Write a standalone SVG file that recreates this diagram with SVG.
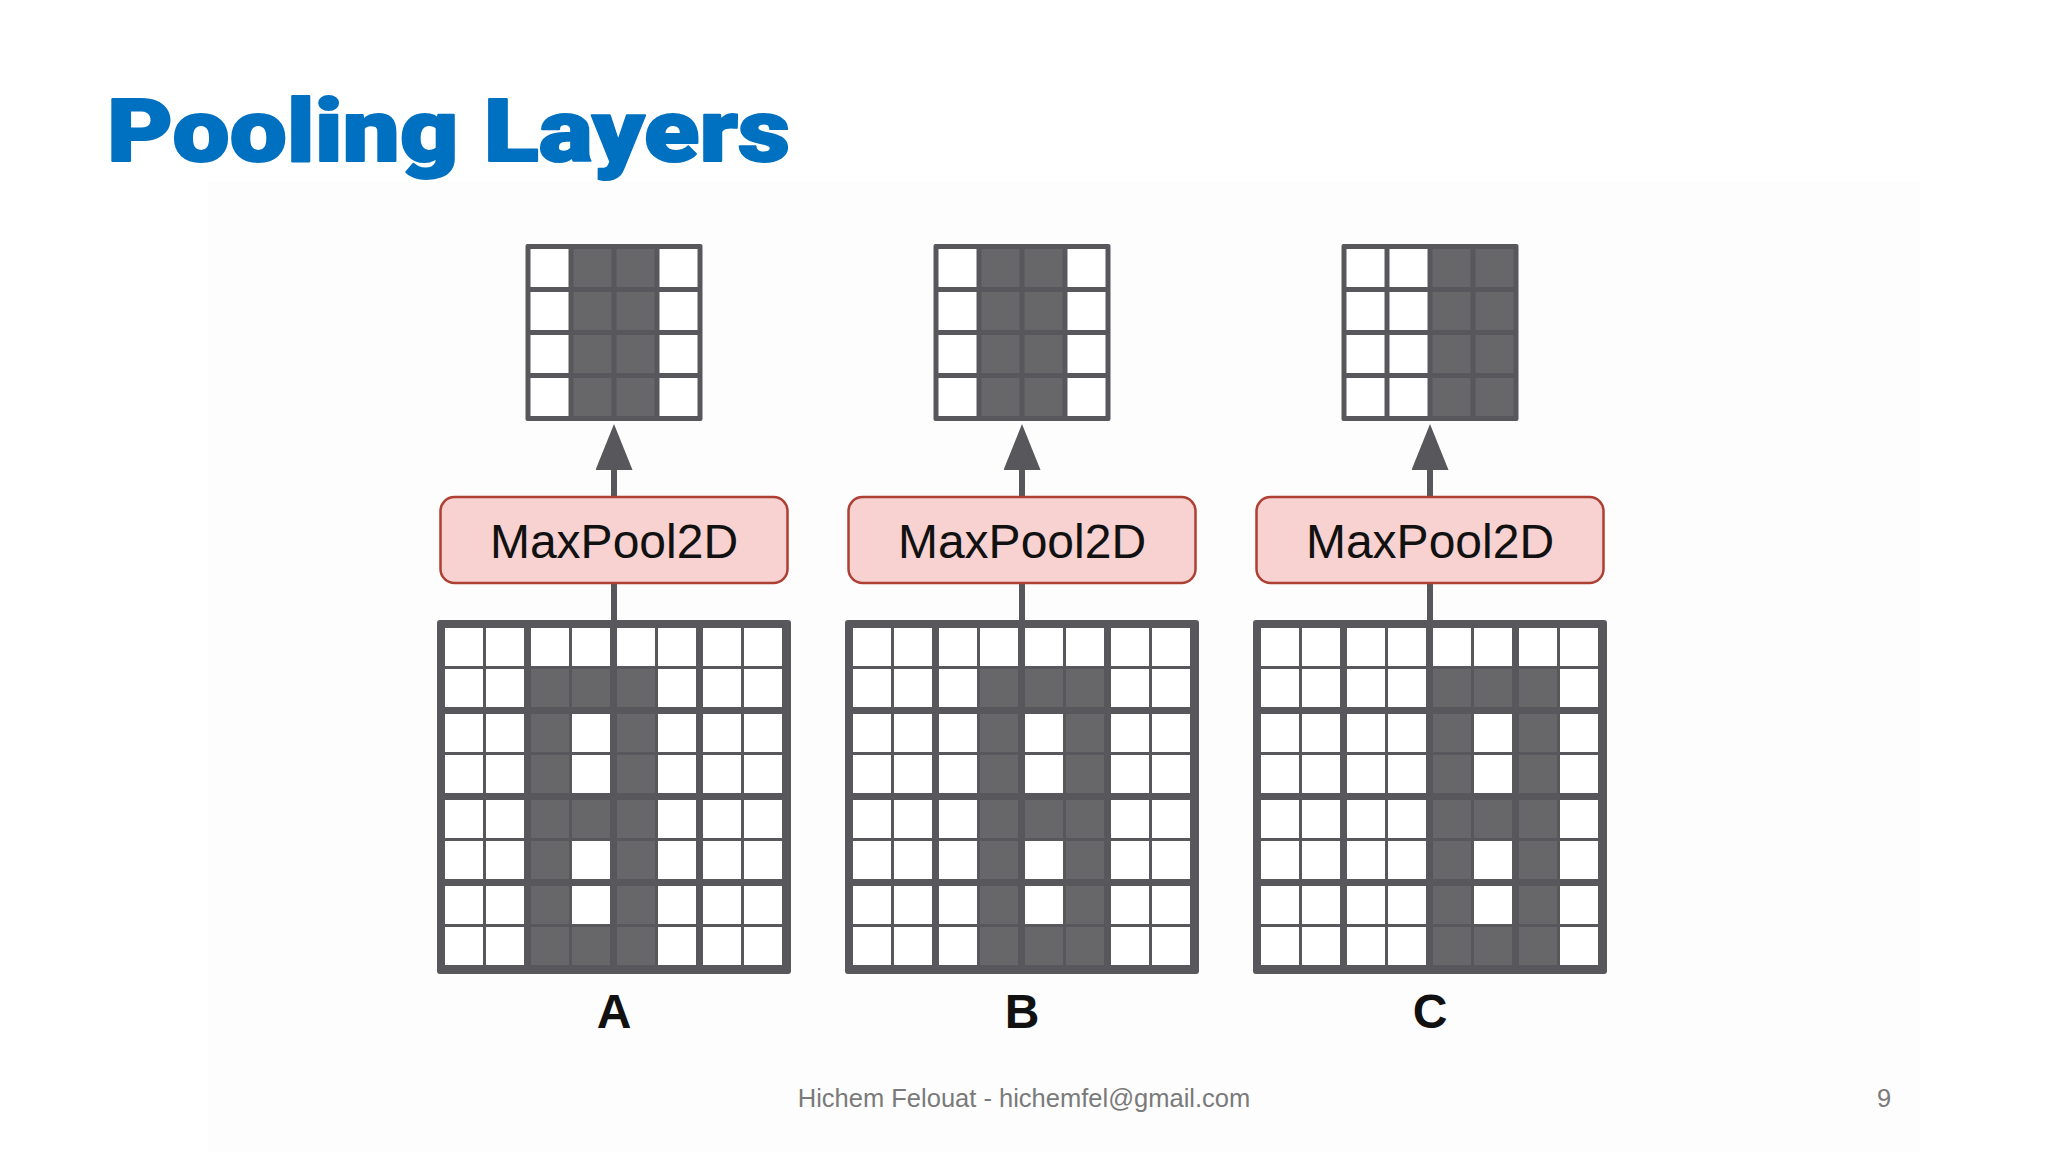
<svg xmlns="http://www.w3.org/2000/svg" width="2048" height="1152" viewBox="0 0 2048 1152">
<style>
  .title { font-family: Roboto, "Liberation Sans", sans-serif; font-weight: 900; font-size: 88px; fill: #0070c0; stroke: #0070c0; stroke-width: 2; stroke-linejoin: round; }
  .line { fill: #58575b; }
  .w { fill: #ffffff; }
  .d { fill: #676669; }
  .box { fill: #f7d2d0; stroke: #ad3f33; stroke-width: 2.5; }
  .boxtxt { font-family: "Liberation Sans", Arial, sans-serif; font-size: 48px; fill: #111111; text-anchor: middle; }
  .lbl { font-family: "Liberation Sans", Arial, sans-serif; font-weight: bold; font-size: 48px; fill: #111111; text-anchor: middle; }
  .foot { font-family: "Liberation Sans", Arial, sans-serif; font-size: 25.5px; fill: #7a7a7a; text-anchor: middle; }
  .conn { stroke: #58575b; stroke-width: 6; fill: none; }
</style>
<defs>
  <marker id="arr" markerUnits="userSpaceOnUse" markerWidth="47" markerHeight="37" viewBox="0 0 47 37" refX="1" refY="18.5" orient="auto">
    <path d="M0,0 L46,18.5 L0,37 Z" fill="#58575b"/>
  </marker>
</defs>

<rect width="2048" height="1152" fill="#ffffff"/>
<rect x="208" y="182" width="1712" height="970" fill="#fdfdfd"/>

<text class="title" x="107" y="161" textLength="683" lengthAdjust="spacingAndGlyphs">Pooling Layers</text>

<!-- connectors -->
<g id="connectors">
  <path class="conn" d="M614,620 L614,583"/>
  <path class="conn" d="M614,497 L614,469" marker-end="url(#arr)"/>
  <path class="conn" d="M1022,620 L1022,583"/>
  <path class="conn" d="M1022,497 L1022,469" marker-end="url(#arr)"/>
  <path class="conn" d="M1430,620 L1430,583"/>
  <path class="conn" d="M1430,497 L1430,469" marker-end="url(#arr)"/>
</g>

<!-- ========== Column A ========== -->
<g id="out-A" transform="translate(525.5,244)">
  <rect class="line" width="177" height="177" rx="2"/>
  <rect class="w" x="5" y="5" width="38" height="38"/><rect class="d" x="48" y="5" width="38" height="38"/><rect class="d" x="91" y="5" width="38" height="38"/><rect class="w" x="134" y="5" width="38" height="38"/>
  <rect class="w" x="5" y="48" width="38" height="38"/><rect class="d" x="48" y="48" width="38" height="38"/><rect class="d" x="91" y="48" width="38" height="38"/><rect class="w" x="134" y="48" width="38" height="38"/>
  <rect class="w" x="5" y="91" width="38" height="38"/><rect class="d" x="48" y="91" width="38" height="38"/><rect class="d" x="91" y="91" width="38" height="38"/><rect class="w" x="134" y="91" width="38" height="38"/>
  <rect class="w" x="5" y="134" width="38" height="38"/><rect class="d" x="48" y="134" width="38" height="38"/><rect class="d" x="91" y="134" width="38" height="38"/><rect class="w" x="134" y="134" width="38" height="38"/>
</g>
<g id="pool-A">
  <rect class="box" x="440.5" y="497" width="347" height="86" rx="14"/>
  <text class="boxtxt" x="614" y="558">MaxPool2D</text>
</g>
<g id="in-A" transform="translate(437,620)">
  <rect class="line" width="354" height="354" rx="3"/>
  <rect class="w" x="8" y="8" width="38" height="38"/><rect class="w" x="49" y="8" width="38" height="38"/><rect class="w" x="94" y="8" width="38" height="38"/><rect class="w" x="135" y="8" width="38" height="38"/><rect class="w" x="180" y="8" width="38" height="38"/><rect class="w" x="221" y="8" width="38" height="38"/><rect class="w" x="266" y="8" width="38" height="38"/><rect class="w" x="307" y="8" width="38" height="38"/>
  <rect class="w" x="8" y="49" width="38" height="38"/><rect class="w" x="49" y="49" width="38" height="38"/><rect class="d" x="94" y="49" width="38" height="38"/><rect class="d" x="135" y="49" width="38" height="38"/><rect class="d" x="180" y="49" width="38" height="38"/><rect class="w" x="221" y="49" width="38" height="38"/><rect class="w" x="266" y="49" width="38" height="38"/><rect class="w" x="307" y="49" width="38" height="38"/>
  <rect class="w" x="8" y="94" width="38" height="38"/><rect class="w" x="49" y="94" width="38" height="38"/><rect class="d" x="94" y="94" width="38" height="38"/><rect class="w" x="135" y="94" width="38" height="38"/><rect class="d" x="180" y="94" width="38" height="38"/><rect class="w" x="221" y="94" width="38" height="38"/><rect class="w" x="266" y="94" width="38" height="38"/><rect class="w" x="307" y="94" width="38" height="38"/>
  <rect class="w" x="8" y="135" width="38" height="38"/><rect class="w" x="49" y="135" width="38" height="38"/><rect class="d" x="94" y="135" width="38" height="38"/><rect class="w" x="135" y="135" width="38" height="38"/><rect class="d" x="180" y="135" width="38" height="38"/><rect class="w" x="221" y="135" width="38" height="38"/><rect class="w" x="266" y="135" width="38" height="38"/><rect class="w" x="307" y="135" width="38" height="38"/>
  <rect class="w" x="8" y="180" width="38" height="38"/><rect class="w" x="49" y="180" width="38" height="38"/><rect class="d" x="94" y="180" width="38" height="38"/><rect class="d" x="135" y="180" width="38" height="38"/><rect class="d" x="180" y="180" width="38" height="38"/><rect class="w" x="221" y="180" width="38" height="38"/><rect class="w" x="266" y="180" width="38" height="38"/><rect class="w" x="307" y="180" width="38" height="38"/>
  <rect class="w" x="8" y="221" width="38" height="38"/><rect class="w" x="49" y="221" width="38" height="38"/><rect class="d" x="94" y="221" width="38" height="38"/><rect class="w" x="135" y="221" width="38" height="38"/><rect class="d" x="180" y="221" width="38" height="38"/><rect class="w" x="221" y="221" width="38" height="38"/><rect class="w" x="266" y="221" width="38" height="38"/><rect class="w" x="307" y="221" width="38" height="38"/>
  <rect class="w" x="8" y="266" width="38" height="38"/><rect class="w" x="49" y="266" width="38" height="38"/><rect class="d" x="94" y="266" width="38" height="38"/><rect class="w" x="135" y="266" width="38" height="38"/><rect class="d" x="180" y="266" width="38" height="38"/><rect class="w" x="221" y="266" width="38" height="38"/><rect class="w" x="266" y="266" width="38" height="38"/><rect class="w" x="307" y="266" width="38" height="38"/>
  <rect class="w" x="8" y="307" width="38" height="38"/><rect class="w" x="49" y="307" width="38" height="38"/><rect class="d" x="94" y="307" width="38" height="38"/><rect class="d" x="135" y="307" width="38" height="38"/><rect class="d" x="180" y="307" width="38" height="38"/><rect class="w" x="221" y="307" width="38" height="38"/><rect class="w" x="266" y="307" width="38" height="38"/><rect class="w" x="307" y="307" width="38" height="38"/>
</g>
<g id="label-A"><text class="lbl" x="614" y="1028">A</text></g>

<!-- ========== Column B ========== -->
<g id="out-B" transform="translate(933.5,244)">
  <rect class="line" width="177" height="177" rx="2"/>
  <rect class="w" x="5" y="5" width="38" height="38"/><rect class="d" x="48" y="5" width="38" height="38"/><rect class="d" x="91" y="5" width="38" height="38"/><rect class="w" x="134" y="5" width="38" height="38"/>
  <rect class="w" x="5" y="48" width="38" height="38"/><rect class="d" x="48" y="48" width="38" height="38"/><rect class="d" x="91" y="48" width="38" height="38"/><rect class="w" x="134" y="48" width="38" height="38"/>
  <rect class="w" x="5" y="91" width="38" height="38"/><rect class="d" x="48" y="91" width="38" height="38"/><rect class="d" x="91" y="91" width="38" height="38"/><rect class="w" x="134" y="91" width="38" height="38"/>
  <rect class="w" x="5" y="134" width="38" height="38"/><rect class="d" x="48" y="134" width="38" height="38"/><rect class="d" x="91" y="134" width="38" height="38"/><rect class="w" x="134" y="134" width="38" height="38"/>
</g>
<g id="pool-B">
  <rect class="box" x="848.5" y="497" width="347" height="86" rx="14"/>
  <text class="boxtxt" x="1022" y="558">MaxPool2D</text>
</g>
<g id="in-B" transform="translate(845,620)">
  <rect class="line" width="354" height="354" rx="3"/>
  <rect class="w" x="8" y="8" width="38" height="38"/><rect class="w" x="49" y="8" width="38" height="38"/><rect class="w" x="94" y="8" width="38" height="38"/><rect class="w" x="135" y="8" width="38" height="38"/><rect class="w" x="180" y="8" width="38" height="38"/><rect class="w" x="221" y="8" width="38" height="38"/><rect class="w" x="266" y="8" width="38" height="38"/><rect class="w" x="307" y="8" width="38" height="38"/>
  <rect class="w" x="8" y="49" width="38" height="38"/><rect class="w" x="49" y="49" width="38" height="38"/><rect class="w" x="94" y="49" width="38" height="38"/><rect class="d" x="135" y="49" width="38" height="38"/><rect class="d" x="180" y="49" width="38" height="38"/><rect class="d" x="221" y="49" width="38" height="38"/><rect class="w" x="266" y="49" width="38" height="38"/><rect class="w" x="307" y="49" width="38" height="38"/>
  <rect class="w" x="8" y="94" width="38" height="38"/><rect class="w" x="49" y="94" width="38" height="38"/><rect class="w" x="94" y="94" width="38" height="38"/><rect class="d" x="135" y="94" width="38" height="38"/><rect class="w" x="180" y="94" width="38" height="38"/><rect class="d" x="221" y="94" width="38" height="38"/><rect class="w" x="266" y="94" width="38" height="38"/><rect class="w" x="307" y="94" width="38" height="38"/>
  <rect class="w" x="8" y="135" width="38" height="38"/><rect class="w" x="49" y="135" width="38" height="38"/><rect class="w" x="94" y="135" width="38" height="38"/><rect class="d" x="135" y="135" width="38" height="38"/><rect class="w" x="180" y="135" width="38" height="38"/><rect class="d" x="221" y="135" width="38" height="38"/><rect class="w" x="266" y="135" width="38" height="38"/><rect class="w" x="307" y="135" width="38" height="38"/>
  <rect class="w" x="8" y="180" width="38" height="38"/><rect class="w" x="49" y="180" width="38" height="38"/><rect class="w" x="94" y="180" width="38" height="38"/><rect class="d" x="135" y="180" width="38" height="38"/><rect class="d" x="180" y="180" width="38" height="38"/><rect class="d" x="221" y="180" width="38" height="38"/><rect class="w" x="266" y="180" width="38" height="38"/><rect class="w" x="307" y="180" width="38" height="38"/>
  <rect class="w" x="8" y="221" width="38" height="38"/><rect class="w" x="49" y="221" width="38" height="38"/><rect class="w" x="94" y="221" width="38" height="38"/><rect class="d" x="135" y="221" width="38" height="38"/><rect class="w" x="180" y="221" width="38" height="38"/><rect class="d" x="221" y="221" width="38" height="38"/><rect class="w" x="266" y="221" width="38" height="38"/><rect class="w" x="307" y="221" width="38" height="38"/>
  <rect class="w" x="8" y="266" width="38" height="38"/><rect class="w" x="49" y="266" width="38" height="38"/><rect class="w" x="94" y="266" width="38" height="38"/><rect class="d" x="135" y="266" width="38" height="38"/><rect class="w" x="180" y="266" width="38" height="38"/><rect class="d" x="221" y="266" width="38" height="38"/><rect class="w" x="266" y="266" width="38" height="38"/><rect class="w" x="307" y="266" width="38" height="38"/>
  <rect class="w" x="8" y="307" width="38" height="38"/><rect class="w" x="49" y="307" width="38" height="38"/><rect class="w" x="94" y="307" width="38" height="38"/><rect class="d" x="135" y="307" width="38" height="38"/><rect class="d" x="180" y="307" width="38" height="38"/><rect class="d" x="221" y="307" width="38" height="38"/><rect class="w" x="266" y="307" width="38" height="38"/><rect class="w" x="307" y="307" width="38" height="38"/>
</g>
<g id="label-B"><text class="lbl" x="1022" y="1028">B</text></g>

<!-- ========== Column C ========== -->
<g id="out-C" transform="translate(1341.5,244)">
  <rect class="line" width="177" height="177" rx="2"/>
  <rect class="w" x="5" y="5" width="38" height="38"/><rect class="w" x="48" y="5" width="38" height="38"/><rect class="d" x="91" y="5" width="38" height="38"/><rect class="d" x="134" y="5" width="38" height="38"/>
  <rect class="w" x="5" y="48" width="38" height="38"/><rect class="w" x="48" y="48" width="38" height="38"/><rect class="d" x="91" y="48" width="38" height="38"/><rect class="d" x="134" y="48" width="38" height="38"/>
  <rect class="w" x="5" y="91" width="38" height="38"/><rect class="w" x="48" y="91" width="38" height="38"/><rect class="d" x="91" y="91" width="38" height="38"/><rect class="d" x="134" y="91" width="38" height="38"/>
  <rect class="w" x="5" y="134" width="38" height="38"/><rect class="w" x="48" y="134" width="38" height="38"/><rect class="d" x="91" y="134" width="38" height="38"/><rect class="d" x="134" y="134" width="38" height="38"/>
</g>
<g id="pool-C">
  <rect class="box" x="1256.5" y="497" width="347" height="86" rx="14"/>
  <text class="boxtxt" x="1430" y="558">MaxPool2D</text>
</g>
<g id="in-C" transform="translate(1253,620)">
  <rect class="line" width="354" height="354" rx="3"/>
  <rect class="w" x="8" y="8" width="38" height="38"/><rect class="w" x="49" y="8" width="38" height="38"/><rect class="w" x="94" y="8" width="38" height="38"/><rect class="w" x="135" y="8" width="38" height="38"/><rect class="w" x="180" y="8" width="38" height="38"/><rect class="w" x="221" y="8" width="38" height="38"/><rect class="w" x="266" y="8" width="38" height="38"/><rect class="w" x="307" y="8" width="38" height="38"/>
  <rect class="w" x="8" y="49" width="38" height="38"/><rect class="w" x="49" y="49" width="38" height="38"/><rect class="w" x="94" y="49" width="38" height="38"/><rect class="w" x="135" y="49" width="38" height="38"/><rect class="d" x="180" y="49" width="38" height="38"/><rect class="d" x="221" y="49" width="38" height="38"/><rect class="d" x="266" y="49" width="38" height="38"/><rect class="w" x="307" y="49" width="38" height="38"/>
  <rect class="w" x="8" y="94" width="38" height="38"/><rect class="w" x="49" y="94" width="38" height="38"/><rect class="w" x="94" y="94" width="38" height="38"/><rect class="w" x="135" y="94" width="38" height="38"/><rect class="d" x="180" y="94" width="38" height="38"/><rect class="w" x="221" y="94" width="38" height="38"/><rect class="d" x="266" y="94" width="38" height="38"/><rect class="w" x="307" y="94" width="38" height="38"/>
  <rect class="w" x="8" y="135" width="38" height="38"/><rect class="w" x="49" y="135" width="38" height="38"/><rect class="w" x="94" y="135" width="38" height="38"/><rect class="w" x="135" y="135" width="38" height="38"/><rect class="d" x="180" y="135" width="38" height="38"/><rect class="w" x="221" y="135" width="38" height="38"/><rect class="d" x="266" y="135" width="38" height="38"/><rect class="w" x="307" y="135" width="38" height="38"/>
  <rect class="w" x="8" y="180" width="38" height="38"/><rect class="w" x="49" y="180" width="38" height="38"/><rect class="w" x="94" y="180" width="38" height="38"/><rect class="w" x="135" y="180" width="38" height="38"/><rect class="d" x="180" y="180" width="38" height="38"/><rect class="d" x="221" y="180" width="38" height="38"/><rect class="d" x="266" y="180" width="38" height="38"/><rect class="w" x="307" y="180" width="38" height="38"/>
  <rect class="w" x="8" y="221" width="38" height="38"/><rect class="w" x="49" y="221" width="38" height="38"/><rect class="w" x="94" y="221" width="38" height="38"/><rect class="w" x="135" y="221" width="38" height="38"/><rect class="d" x="180" y="221" width="38" height="38"/><rect class="w" x="221" y="221" width="38" height="38"/><rect class="d" x="266" y="221" width="38" height="38"/><rect class="w" x="307" y="221" width="38" height="38"/>
  <rect class="w" x="8" y="266" width="38" height="38"/><rect class="w" x="49" y="266" width="38" height="38"/><rect class="w" x="94" y="266" width="38" height="38"/><rect class="w" x="135" y="266" width="38" height="38"/><rect class="d" x="180" y="266" width="38" height="38"/><rect class="w" x="221" y="266" width="38" height="38"/><rect class="d" x="266" y="266" width="38" height="38"/><rect class="w" x="307" y="266" width="38" height="38"/>
  <rect class="w" x="8" y="307" width="38" height="38"/><rect class="w" x="49" y="307" width="38" height="38"/><rect class="w" x="94" y="307" width="38" height="38"/><rect class="w" x="135" y="307" width="38" height="38"/><rect class="d" x="180" y="307" width="38" height="38"/><rect class="d" x="221" y="307" width="38" height="38"/><rect class="d" x="266" y="307" width="38" height="38"/><rect class="w" x="307" y="307" width="38" height="38"/>
</g>
<g id="label-C"><text class="lbl" x="1430" y="1028">C</text></g>

<text class="foot" x="1024" y="1107">Hichem Felouat - hichemfel@gmail.com</text>
<text class="foot" x="1884" y="1107">9</text>
</svg>
